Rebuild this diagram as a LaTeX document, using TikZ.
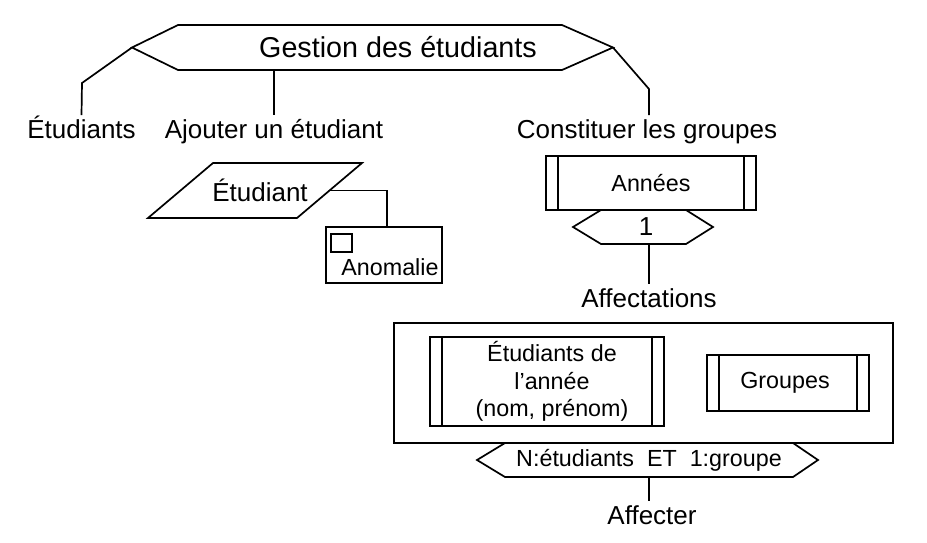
\documentclass[tikz,border=0pt]{standalone}
\usepackage{fontspec}
\setmainfont{Liberation Sans}
\usetikzlibrary{positioning}

\begin{document}
\begin{tikzpicture}[
    x=1pt,y=-1pt,
    line width=1.7pt,
    titre/.style={font=\fontsize{28.7}{33}\selectfont,inner sep=0pt},
    big/.style={font=\fontsize{26}{31}\selectfont,text height=20pt,text depth=6pt,inner xsep=0pt,inner ysep=2pt},
    small/.style={font=\fontsize{23.3}{27.5}\selectfont,align=center},
    body/.style={inner sep=0pt,outer sep=0pt},
    ent/.style={draw,body,small,path picture={
        \draw ([xshift=12pt]path picture bounding box.north west) -- ([xshift=12pt]path picture bounding box.south west);
        \draw ([xshift=-12pt]path picture bounding box.north east) -- ([xshift=-12pt]path picture bounding box.south east);}}
]
\useasboundingbox (0,0) rectangle (927,542);

% titre
\node[body,minimum width=384,minimum height=45] (gest) at (370,47.5) {};
\node[titre] (gestt) at (398,47) {Gestion des étudiants};
\coordinate (gestW) at ([xshift=-46pt]gest.west);
\coordinate (gestE) at ([xshift=51pt]gest.east);
\draw (gest.north west) -- (gest.north east) -- (gestE) -- (gest.south east) -- (gest.south west) -- (gestW) -- cycle;

\node[big] (etuds) at (81.5,131) {Étudiants};
\node[big] (ajout) at (274,131) {Ajouter un étudiant};
\node[big] (const) at (647,131) {Constituer les groupes};
\coordinate (bendL) at (82,83);
\coordinate (bendR) at (649,89);
\draw (gestW) -- (bendL) -- (etuds.north);
\draw (ajout.north |- gest.south) -- (ajout.north);
\draw (gestE) -- (bendR) -- (bendR |- const.north);

% ajouter un etudiant
\node[body,minimum width=149,minimum height=55,font=\fontsize{26}{31}\selectfont] (etd) at (255,190.5) {\hspace*{10pt}Étudiant};
\draw ([xshift=32.5pt]etd.north west) -- ([xshift=32.5pt]etd.north east) -- ([xshift=-32.5pt]etd.south east) -- ([xshift=-32.5pt]etd.south west) -- cycle;
\node[draw,body,minimum width=116,minimum height=56] (anom) at (384,255) {};
\node[small] (anomt) at (390,267) {Anomalie};
\draw ([xshift=5pt,yshift=-7pt]anom.north west) rectangle ++(21,18);
\draw (etd.east) -| ([xshift=3pt]anom.north);

% constituer les groupes
\node[ent,minimum width=210,minimum height=54] (annees) at (651,183) {Années};
\node[body,font=\fontsize{26}{31}\selectfont,minimum width=85,minimum height=34] (un) at (643.5,227) {\hspace*{5pt}1};
\draw (un.north west) -- (un.north east) -- ([xshift=27pt]un.east) -- (un.south east) -- (un.south west) -- ([xshift=-28pt]un.west) -- cycle;
\node[big] (affec) at (649,300) {Affectations};
\draw (un.south -| affec.north) -- (affec.north);

\node[draw,body,minimum width=499,minimum height=120] (cadre) at (643.5,383) {};
\node[ent,minimum width=234,minimum height=89] (etan) at (547,381.5) {\hspace*{10pt}Étudiants de\\\hspace*{10pt}l’année\\\hspace*{10pt}(nom, prénom)};
\node[ent,minimum width=162,minimum height=56] (grp) at (788,383) {Groupes\hspace*{6pt}};
\node[body,small,minimum width=288,minimum height=34] (card) at (649,460) {N:étudiants\ \ ET\ \ 1:groupe};
\draw (card.north west) -- (card.north east) -- ([xshift=25pt]card.east) -- (card.south east) -- (card.south west) -- ([xshift=-28pt]card.west) -- cycle;
\node[big] (affect) at (652,517) {Affecter};
\draw (card.south) -- (card.south |- affect.north);
\end{tikzpicture}
\end{document}
